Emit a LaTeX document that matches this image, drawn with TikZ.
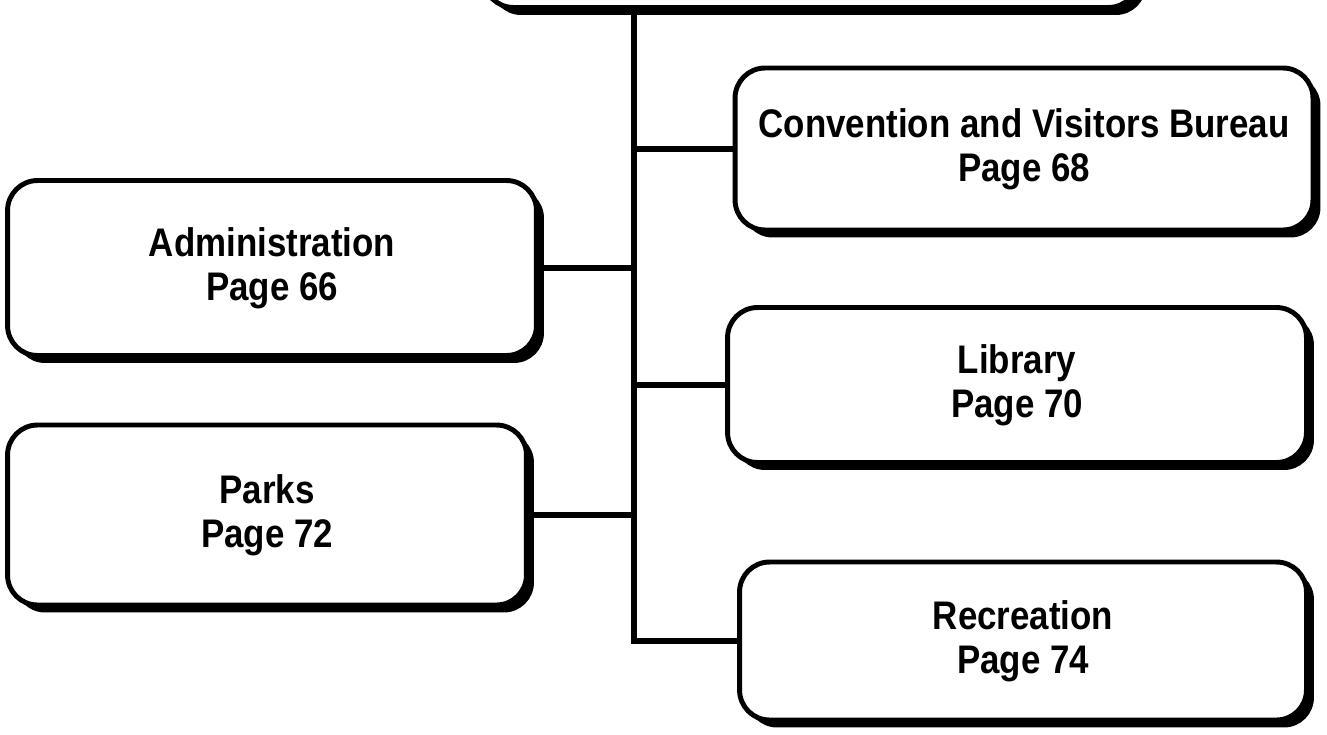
\documentclass[tikz,border=0pt]{standalone}
\usepackage{fontspec}
\setmainfont{Liberation Sans}[FakeStretch=0.875]
\usepackage{tikz}
\usetikzlibrary{shadows}

\begin{document}
\begin{tikzpicture}[x=0.02cm, y=-0.02cm,
        unit/.style = {draw, line width=2.8pt, fill=white, rounded corners=0.6cm,
            align=center, inner sep=0pt,
            font=\bfseries\fontsize{22.7}{25}\selectfont,
            drop shadow={shadow xshift=0.15cm, shadow yshift=-0.15cm, fill=black, opacity=1}},
        link/.style = {line width=3.2pt}]
            \useasboundingbox (0,0) rectangle (1327,734);
            \clip (0,0) rectangle (1327,734);

            \node [unit, minimum width=13.1cm, minimum height=3.1cm] (head) at (811,-70) {};

            \node [unit, minimum width=11.56cm, minimum height=3.24cm] (conv) at (1024,149)
            {Convention and Visitors Bureau\\Page 68};
            \node [unit, minimum width=10.58cm, minimum height=3.5cm] (admin) at (272,268)
            {Administration\\Page 66};
            \node [unit, minimum width=11.58cm, minimum height=3.1cm] (lib) at (1017,385)
            {Library\\Page 70};
            \node [unit, minimum width=10.38cm, minimum height=3.6cm] (parks) at (267,515)
            {Parks\\Page 72};
            \node [unit, minimum width=11.34cm, minimum height=3.16cm] (rec) at (1023,641)
            {Recreation\\Page 74};

            \coordinate (trunk) at (634,8);

            \draw [link] (head.south -| trunk) -- (rec.west -| trunk) -- (rec.west);
            \draw [link] (conv.west) -- (conv.west -| trunk);
            \draw [link] (admin.east) -- (admin.east -| trunk);
            \draw [link] (lib.west) -- (lib.west -| trunk);
            \draw [link] (parks.east) -- (parks.east -| trunk);
\end{tikzpicture}
\end{document}
